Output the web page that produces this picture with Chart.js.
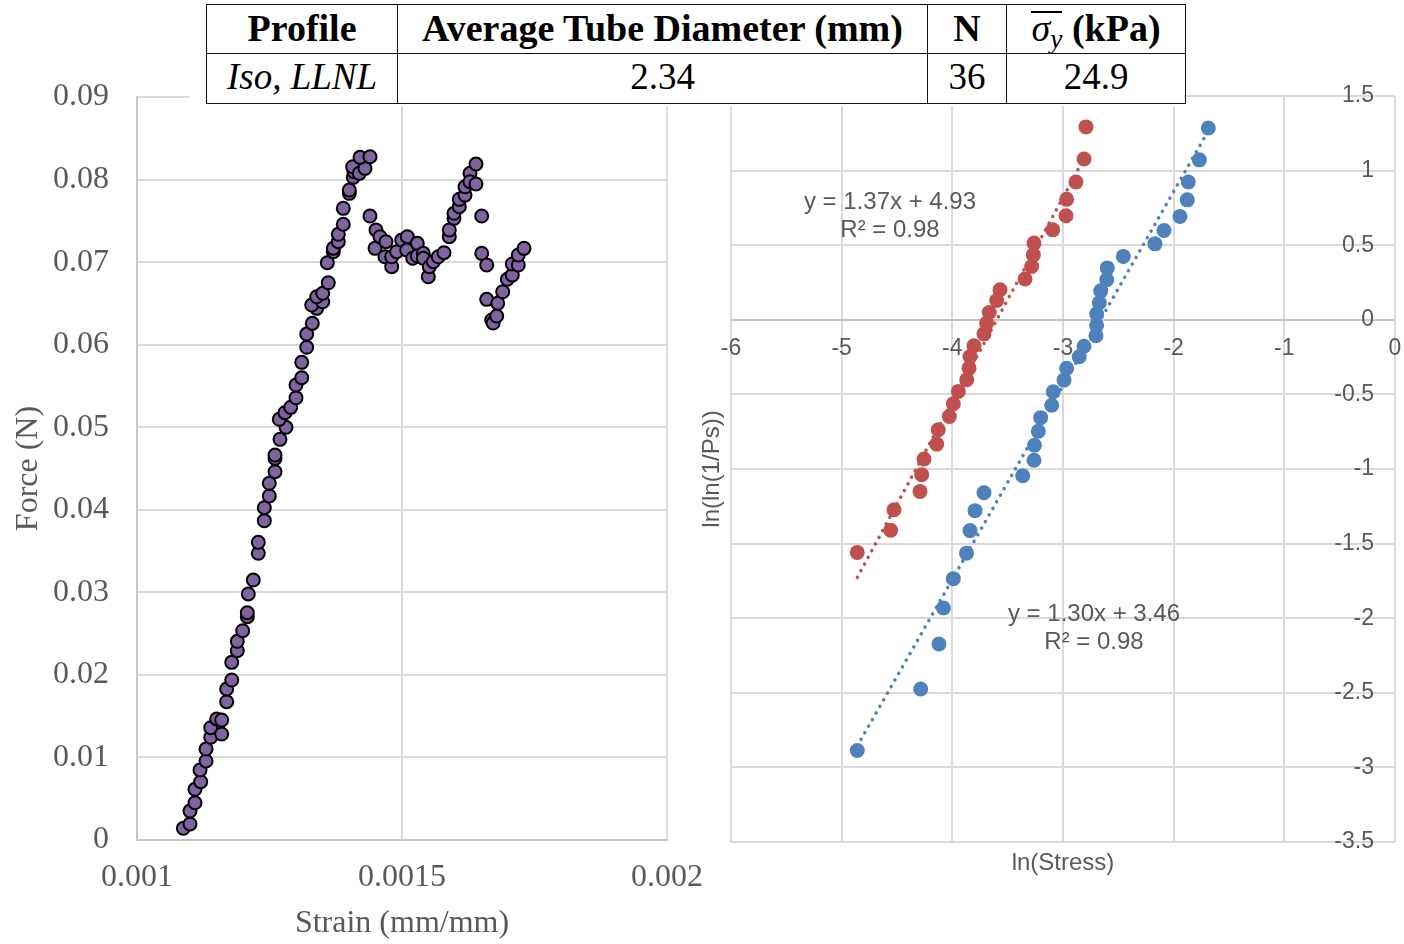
<!DOCTYPE html>
<html>
<head>
<meta charset="utf-8">
<script src="https://cdn.jsdelivr.net/npm/chart.js@4.4.1/dist/chart.umd.min.js"></script>
<style>
html,body{margin:0;padding:0;background:#fff;}
body{width:1404px;height:944px;overflow:hidden;position:relative;}
#c1{position:absolute;left:0;top:0;}
#c2{position:absolute;left:690px;top:0;}
#cover{position:absolute;left:190px;top:0;width:994px;height:106px;background:#fff;z-index:5;}
#tbl{position:absolute;left:206px;top:4px;border-collapse:collapse;table-layout:fixed;z-index:6;font-family:'Liberation Serif','Times New Roman',serif;color:#000;}
#tbl td{border:1.5px solid #111;text-align:center;vertical-align:middle;white-space:nowrap;line-height:1;overflow:hidden;}
#tbl tr.h td{height:46px;padding:0 0 2px 0;font-weight:bold;font-size:38px;}
#tbl tr.b td{height:45px;padding:0 0 4px 0;font-size:37px;}
.ov{display:inline-block;border-top:2px solid #000;line-height:30px;padding-top:0;font-weight:normal;}
.eq{position:absolute;width:220px;text-align:center;font-family:'Liberation Sans',Arial,sans-serif;font-size:24px;line-height:27.5px;color:#595959;z-index:4;}
</style>
</head>
<body>
<canvas id="c1" width="720" height="944"></canvas>
<canvas id="c2" width="714" height="944"></canvas>
<div id="cover"></div>
<table id="tbl">
<colgroup><col style="width:191px"><col style="width:530px"><col style="width:79px"><col style="width:179px"></colgroup>
<tr class="h"><td>Profile</td><td>Average Tube Diameter (mm)</td><td>N</td><td><span class="ov"><i>σ</i><sub style="font-size:0.72em;vertical-align:-0.25em;line-height:0"><i>y</i></sub></span> (kPa)</td></tr>
<tr class="b"><td><i>Iso, LLNL</i></td><td>2.34</td><td>36</td><td>24.9</td></tr>
</table>
<div class="eq" style="left:780px;top:187px;">y = 1.37x + 4.93<br>R² = 0.98</div>
<div class="eq" style="left:984px;top:599px;">y = 1.30x + 3.46<br>R² = 0.98</div>
<script>
// ---------- Left chart: Force vs Strain ----------
const strain = [
0.0010874,0.0011000,0.0011000,0.0011094,0.0011094,0.0011202,0.0011189,0.0011302,0.0011302,0.0011391,
0.0011391,0.0011504,0.0011598,0.0011598,0.0011692,0.0011692,0.0011787,0.0011787,0.0011892,0.0011892,
0.0011994,0.0012081,0.0012081,0.0012100,0.0012194,0.0012289,0.0012289,0.0012402,0.0012402,0.0012496,
0.0012496,0.0012604,0.0012604,0.0012604,0.0012698,0.0012811,0.0012685,0.0012792,0.0012900,0.0013000,
0.0013000,0.0013108,0.0013108,0.0013202,0.0013202,0.0013308,0.0013391,0.0013296,0.0013504,0.0013391,
0.0013504,0.0013609,0.0013591,0.0013704,0.0013704,0.0013798,0.0013798,0.0013892,0.0013892,0.0014006,
0.0014006,0.0014081,0.0014094,0.0014070,0.0014194,0.0014302,0.0014208,0.0014396,0.0014396,0.0014509,
0.0014491,0.0014585,0.0014698,0.0014679,0.0014806,0.0014806,0.0014900,0.0014994,0.0015100,0.0015089,
0.0015202,0.0015289,0.0015289,0.0015402,0.0015402,0.0015496,0.0015515,0.0015591,0.0015685,0.0015792,
0.0015892,0.0015892,0.0015981,0.0015981,0.0016081,0.0016081,0.0016189,0.0016189,0.0016283,0.0016283,
0.0016396,0.0016396,0.0016504,0.0016504,0.0016598,0.0016598,0.0016692,0.0016720,0.0016787,0.0016806,
0.0016900,0.0016987,0.0017081,0.0017081,0.0017194,0.0017194,0.0017302];
const force = [
0.00142,0.00194,0.00351,0.00452,0.00614,0.00706,0.00848,0.00957,0.01102,0.01244,
0.01360,0.01466,0.01453,0.01284,0.01675,0.01829,0.01938,0.02152,0.02293,0.02407,
0.02535,0.02705,0.02753,0.02980,0.03149,0.03473,0.03606,0.03868,0.04025,0.04167,
0.04321,0.04461,0.04623,0.04663,0.04853,0.04999,0.05096,0.05176,0.05241,0.05357,
0.05511,0.05600,0.05786,0.05968,0.06129,0.06258,0.06440,0.06480,0.06520,0.06581,
0.06622,0.06750,0.06993,0.07126,0.07167,0.07247,0.07337,0.07458,0.07651,0.07833,
0.07873,0.08027,0.08095,0.08155,0.08075,0.08136,0.08269,0.08277,0.07558,0.07389,
0.07167,0.07308,0.07247,0.07065,0.06944,0.07065,0.07126,0.07267,0.07308,0.07146,
0.07046,0.07228,0.07074,0.07106,0.07046,0.06823,0.06944,0.07005,0.07065,0.07114,
0.07308,0.07389,0.07530,0.07591,0.07671,0.07760,0.07812,0.07913,0.08075,0.07974,
0.08188,0.07946,0.07558,0.07106,0.06965,0.06549,0.06298,0.06262,0.06347,0.06501,
0.06641,0.06792,0.06843,0.06977,0.06965,0.07086,0.07167];
const strainTicks = [0.001, 0.0015, 0.002];
const strainTickLabels = ['0.001', '0.0015', '0.002'];
const forceTicks = [0, 0.01, 0.02, 0.03, 0.04, 0.05, 0.06, 0.07, 0.08, 0.09];
const forceTickLabels = ['0', '0.01', '0.02', '0.03', '0.04', '0.05', '0.06', '0.07', '0.08', '0.09'];

// ---------- Right chart: Weibull plot ----------
const lnStressRed = [-2.792,-2.810,-2.883,-2.967,-2.973,-3.093,-3.262,-3.268,-3.283,-3.343,
-3.569,-3.599,-3.666,-3.690,-3.714,-3.804,-3.840,-3.849,-3.870,-3.946,
-3.991,-4.027,-4.127,-4.141,-4.256,-4.277,-4.292,-4.527,-4.557,-4.859];
const lnlnRed = [1.293,1.078,0.924,0.808,0.697,0.603,0.514,0.435,0.357,0.273,
0.201,0.129,0.049,-0.022,-0.094,-0.174,-0.246,-0.324,-0.402,-0.480,
-0.563,-0.648,-0.737,-0.833,-0.933,-1.038,-1.150,-1.273,-1.411,-1.559];
const lnStressBlue = [-4.859,-4.286,-4.121,-4.080,-3.991,-3.872,-3.840,-3.795,-3.714,-3.364,
-3.262,-3.258,-3.223,-3.202,-3.102,-3.088,-2.991,-2.967,-2.853,-2.810,
-2.702,-2.696,-2.696,-2.672,-2.659,-2.605,-2.600,-2.455,-2.169,-2.087,
-1.943,-1.877,-1.868,-1.768,-1.687];
const lnlnBlue = [-2.887,-2.475,-2.173,-1.932,-1.735,-1.564,-1.413,-1.279,-1.159,-1.045,
-0.941,-0.841,-0.747,-0.656,-0.573,-0.482,-0.404,-0.325,-0.248,-0.177,
-0.107,-0.037,0.040,0.114,0.194,0.268,0.348,0.425,0.509,0.599,
0.693,0.804,0.924,1.072,1.286];
const trendSlope = [1.37, 1.30];
const trendIntercept = [4.93, 3.46];
const lnStressTicks = [-6, -5, -4, -3, -2, -1, 0];
const lnStressTickLabels = ['-6', '-5', '-4', '-3', '-2', '-1', '0'];
const lnlnTicks = [-3.5, -3, -2.5, -2, -1.5, -1, -0.5, 0, 0.5, 1, 1.5];
const lnlnTickLabels = ['-3.5', '-3', '-2.5', '-2', '-1.5', '-1', '-0.5', '0', '0.5', '1', '1.5'];

const zip = (xs, ys) => xs.map((x, i) => ({x: x, y: ys[i]}));
function trendPts(xs, k) {
  const lo = Math.min(...xs), hi = Math.max(...xs);
  return [lo, hi].map(x => ({x: x, y: trendSlope[k] * x + trendIntercept[k]}));
}
const setTicks = arr => (s => { s.ticks = arr.map(v => ({value: v})); });

const serif = 'Liberation Serif';
const sans = 'Liberation Sans';
const grey = '#595959';

new Chart(document.getElementById('c1'), {
  type: 'scatter',
  data: {datasets: [{
    data: zip(strain, force),
    backgroundColor: '#8064A2',
    borderColor: '#000000',
    borderWidth: 2,
    pointRadius: 6.5
  }]},
  options: {
    responsive: false, animation: false,
    layout: {padding: {left: 0, right: 53, top: 97, bottom: 0}},
    plugins: {legend: {display: false}, tooltip: {enabled: false}},
    scales: {
      x: {
        type: 'linear', min: 0.001, max: 0.002,
        afterBuildTicks: setTicks(strainTicks),
        afterFit: s => { s.height = 104; },
        grid: {color: '#d9d9d9', lineWidth: 2, drawTicks: false},
        border: {color: '#c6c6c6', width: 2},
        ticks: {color: grey, font: {family: serif, size: 32, lineHeight: '76px'}, padding: 0, maxRotation: 0, autoSkip: false,
                callback: (v, i) => strainTickLabels[i]},
        title: {display: true, text: 'Strain (mm/mm)', color: grey, font: {family: serif, size: 32}, padding: {top: 0, bottom: 1}}
      },
      y: {
        type: 'linear', min: 0, max: 0.09,
        afterBuildTicks: setTicks(forceTicks),
        afterFit: s => { s.width = 137; },
        grid: {color: '#d9d9d9', lineWidth: 2, drawTicks: false},
        border: {color: '#c6c6c6', width: 2},
        ticks: {color: grey, font: {family: serif, size: 32}, padding: 28, autoSkip: false,
                callback: (v, i) => forceTickLabels[i]},
        title: {display: true, text: 'Force (N)', color: grey, font: {family: serif, size: 32}, padding: {top: 9, bottom: 0}}
      }
    }
  }
});

new Chart(document.getElementById('c2'), {
  type: 'scatter',
  data: {datasets: [
    {data: zip(lnStressRed, lnlnRed), backgroundColor: '#C0504D', borderWidth: 0, pointRadius: 7.5},
    {data: zip(lnStressBlue, lnlnBlue), backgroundColor: '#4F81BD', borderWidth: 0, pointRadius: 7.5},
    {data: trendPts(lnStressRed, 0), showLine: true, pointRadius: 0, borderColor: '#C0504D', borderWidth: 3.5,
     borderDash: [0.1, 7.5], borderCapStyle: 'round'},
    {data: trendPts(lnStressBlue, 1), showLine: true, pointRadius: 0, borderColor: '#4F81BD', borderWidth: 3.5,
     borderDash: [0.1, 7.5], borderCapStyle: 'round'}
  ]},
  options: {
    responsive: false, animation: false,
    layout: {padding: {left: 0, right: 9, top: 96, bottom: 62}},
    plugins: {legend: {display: false}, tooltip: {enabled: false}},
    scales: {
      x: {
        type: 'linear', min: -6, max: 0, position: 'bottom',
        afterBuildTicks: setTicks(lnStressTicks),
        afterFit: s => { s.height = 40; },
        grid: {color: '#d9d9d9', lineWidth: 2, drawTicks: false},
        border: {display: false},
        ticks: {display: false},
        title: {display: true, text: 'ln(Stress)', color: grey, font: {family: sans, size: 24}, padding: {top: 0, bottom: 4}}
      },
      y: {
        type: 'linear', min: -3.5, max: 1.5, position: 'left',
        afterBuildTicks: setTicks(lnlnTicks),
        afterFit: s => { s.width = 41; },
        grid: {color: c => (c.tick && c.tick.value === 0) ? '#c4c4c4' : '#d9d9d9', lineWidth: 2, drawTicks: false},
        border: {display: false},
        ticks: {display: false},
        title: {display: true, text: 'ln(ln(1/Ps))', color: grey, font: {family: sans, size: 24}, padding: {top: 8, bottom: 0}}
      },
      x2: {
        type: 'linear', axis: 'x', min: -6, max: 0, position: {y: 0},
        afterBuildTicks: setTicks(lnStressTicks),
        grid: {display: false, drawTicks: false},
        border: {display: false},
        ticks: {color: grey, font: {family: sans, size: 23, lineHeight: '56px'}, padding: 1, maxRotation: 0, autoSkip: false,
                callback: (v, i) => lnStressTickLabels[i]}
      },
      y2: {
        type: 'linear', axis: 'y', min: -3.5, max: 1.5, position: {x: -0.19},
        afterBuildTicks: setTicks(lnlnTicks),
        grid: {display: false, drawTicks: false},
        border: {display: false},
        ticks: {color: grey, font: {family: sans, size: 23}, padding: 0, autoSkip: false,
                callback: (v, i) => lnlnTickLabels[i]}
      }
    }
  }
});
</script>
</body>
</html>
